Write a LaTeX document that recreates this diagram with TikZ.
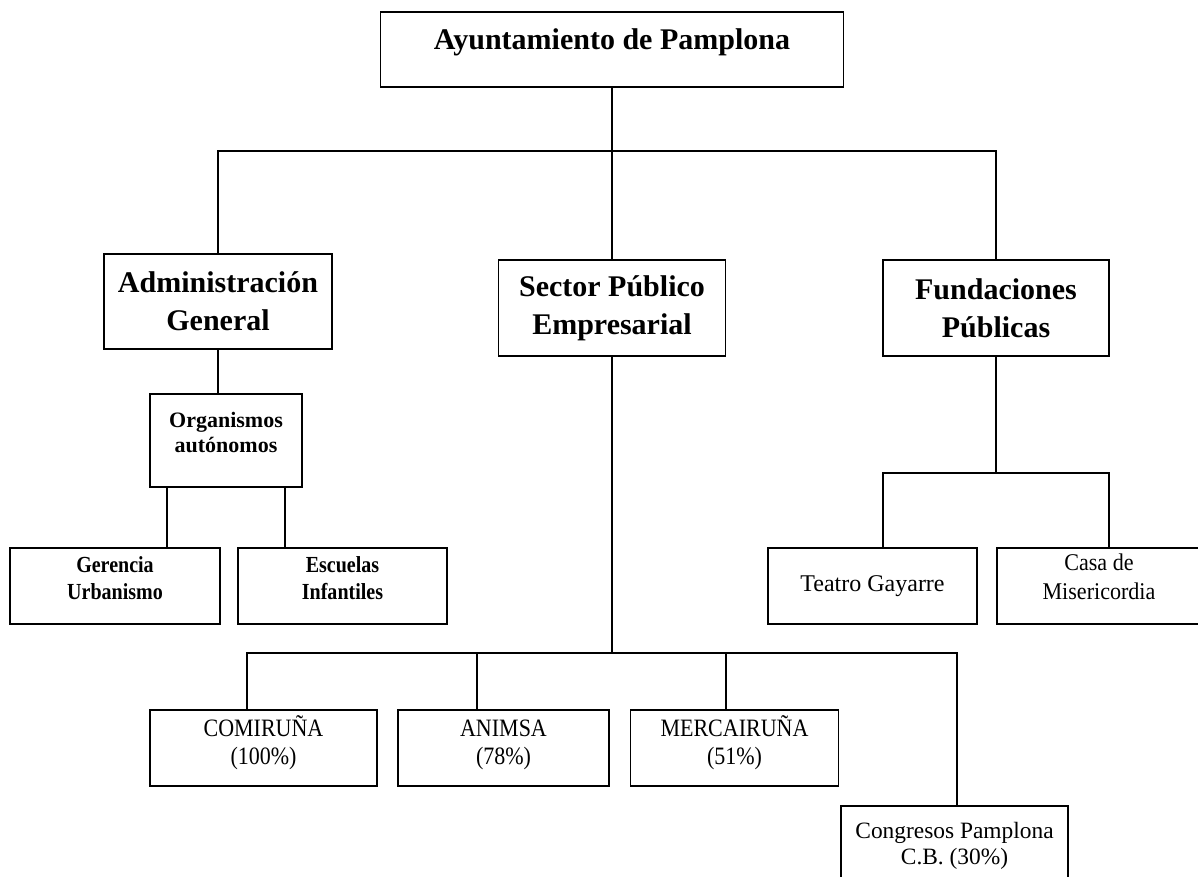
\documentclass[tikz,border=0pt]{standalone}
\usepackage{fontspec}
\setmainfont{Liberation Serif}
\newfontfamily\apnarrow[FakeStretch=0.88]{Liberation Serif}
\newfontfamily\apnarrowb[FakeStretch=0.87]{Liberation Serif}
\newfontfamily\apslim[FakeStretch=0.92]{Liberation Serif}
\newcommand{\aplift}[1]{\rule[-#1]{0pt}{1pt}}
\tikzset{
  apbox/.style={draw, line width=1.6pt, align=center, inner sep=0pt},
  aptop/.style={apbox, font=\bfseries\fontsize{30pt}{38pt}\selectfont, minimum width=463pt, minimum height=75pt, text height=22pt, text depth=22pt},
  aphead/.style={apbox, font=\bfseries\fontsize{30pt}{38pt}\selectfont, minimum width=227pt, minimum height=96pt},
  aporg/.style={apbox, font=\bfseries\fontsize{22pt}{25pt}\selectfont, minimum width=152pt, minimum height=93pt, execute at end node=\aplift{16pt}},
  apsub/.style={apbox, font=\apnarrowb\bfseries\fontsize{23pt}{27pt}\selectfont, minimum width=210pt, minimum height=76pt, execute at end node=\aplift{16pt}},
  apfund/.style={apbox, font=\fontsize{24pt}{29pt}\selectfont, minimum width=209pt, minimum height=76pt},
  apemp/.style={apbox, font=\apnarrow\fontsize{25pt}{28pt}\selectfont, minimum width=227pt, minimum height=76pt, execute at end node=\aplift{16pt}},
  apcong/.style={apbox, font=\fontsize{23.4pt}{26pt}\selectfont, minimum width=227pt, minimum height=79pt},
  apline/.style={line width=1.6pt}
}
\begin{document}
\begin{tikzpicture}[x=1pt, y=-1pt]
  \useasboundingbox (0,0) rectangle (1198,876);
  % top and second level
  \node[aptop] (ayto) at (612,49.5) {Ayuntamiento de Pamplona};
  \node[aphead, minimum width=228pt, minimum height=95pt] (admin) at (218,301.5) {Administración\\General};
  \node[aphead] (sector) at (612,308) {Sector Público\\Empresarial};
  \node[aphead, minimum width=226pt] (fund) at (996,308) {Fundaciones\\Públicas};
  % organismos autonomos
  \node[aporg] (org) at (226,440.5) {Organismos\\autónomos};
  \node[apsub] (geren) at (115,586) {Gerencia\\Urbanismo};
  \node[apsub, minimum width=209pt] (escu) at (342.5,586) {Escuelas\\Infantiles};
  % fundaciones
  \node[apfund] (teatro) at (872.5,586) {Teatro Gayarre};
  \node[apfund, minimum width=204pt, font=\apslim\fontsize{24pt}{29pt}\selectfont, execute at end node=\aplift{18pt}] (casa) at (1099,586) {Casa de\\Misericordia};
  % empresas
  \node[apemp] (comi) at (263.5,748) {COMIRUÑA\\(100\%)};
  \node[apemp, minimum width=211pt] (animsa) at (503.5,748) {\vphantom{Ñ}ANIMSA\\(78\%)};
  \node[apemp, minimum width=208pt] (merca) at (734.5,748) {MERCAIRUÑA\\(51\%)};
  \node[apcong] (congr) at (954.5,845.5) {Congresos Pamplona\\C.B. (30\%)};

  % connectors
  \coordinate (tj) at ([yshift=-63pt]ayto.south);
  \draw[apline] (ayto.south) -- (tj);
  \draw[apline] (admin.north) |- (tj) -| (fund.north);
  \draw[apline] (tj) -- (sector.north);
  \draw[apline] (admin.south) -- (admin.south |- org.north);
  \coordinate (og) at ([xshift=18pt]org.south west);
  \coordinate (oe) at ([xshift=-18pt]org.south east);
  \draw[apline] (og) -- (og |- geren.north);
  \draw[apline] (oe) -- (oe |- escu.north);
  \coordinate (fj) at ([yshift=-116pt]fund.south);
  \draw[apline] (fund.south) -- (fj);
  \draw[apline] ([xshift=10.5pt]teatro.north) |- (fj) -| ([xshift=10pt]casa.north);
  \coordinate (sj) at ([yshift=-296pt]sector.south);
  \draw[apline] (sector.south) -- (sj);
  \draw[apline] ([xshift=-16.5pt]comi.north) |- (sj) -| ([xshift=2.5pt]congr.north);
  \foreach \n/\dx in {animsa/-26.5, merca/-8.5} {
    \coordinate (e\n) at ([xshift=\dx pt]\n.north);
    \draw[apline] (e\n) -- (e\n |- sj);
  }
\end{tikzpicture}
\end{document}
